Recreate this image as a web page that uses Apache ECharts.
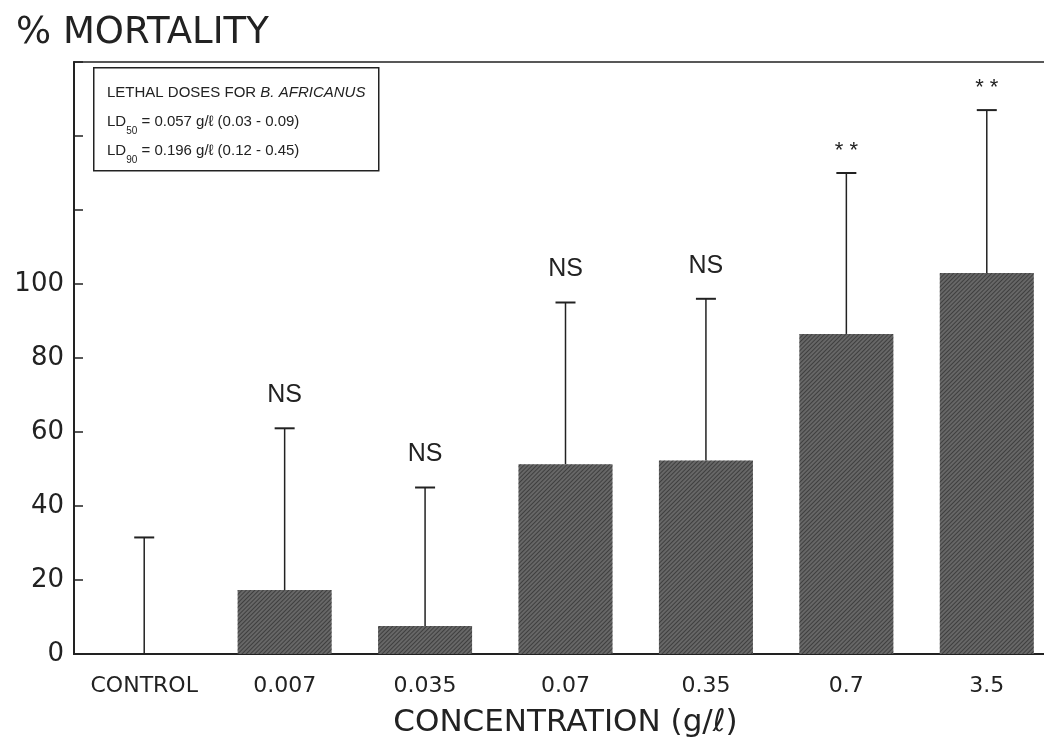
<!DOCTYPE html>
<html>
<head>
<meta charset="utf-8">
<script src="https://cdn.jsdelivr.net/npm/echarts@6/dist/echarts.min.js"></script>
<style>
  html, body { margin: 0; padding: 0; background: #fff; }
  #chart { width: 1044px; height: 752px; }
</style>
</head>
<body>
<div id="chart"></div>
<script>
const categories = ["CONTROL", "0.007", "0.035", "0.07", "0.35", "0.7", "3.5"];
const mortality = [0, 17.3, 7.6, 51.3, 52.3, 86.5, 103];
const errorTop = [31.5, 61, 45, 95, 96, 130, 147];
const significance = ["", "NS", "NS", "NS", "NS", "* *", "* *"];
const yTicks = [0, 20, 40, 60, 80, 100];

const font = "Liberation Sans";
const wide = "DejaVu Sans";
const chart = echarts.init(document.getElementById("chart"), null, { renderer: "canvas" });

const errorData = categories.map((c, i) => [i, mortality[i], errorTop[i], significance[i]]);

chart.setOption({
  animation: false,
  title: {
    text: "% MORTALITY", left: 11, top: 10,
    textStyle: { fontFamily: wide, fontSize: 37, fontWeight: "normal", color: "#222" }
  },
  grid: {
    left: 74, width: 983, top: 62, bottom: 98, outerBoundsMode: "none",
    show: true, borderColor: "#222", borderWidth: 1.5
  },
  xAxis: {
    type: "category", data: categories,
    name: "CONCENTRATION (g/ℓ)", nameLocation: "middle", nameGap: 53,
    nameTextStyle: { fontFamily: wide, fontSize: 31, color: "#222" },
    axisLine: { lineStyle: { color: "#222", width: 2 } },
    axisTick: { alignWithLabel: true, length: 9, lineStyle: { color: "#222", width: 1.5 } },
    axisLabel: { fontFamily: wide, fontSize: 22, color: "#222", margin: 21 }
  },
  yAxis: {
    type: "value", min: 0, max: 160, interval: 20,
    axisLine: { show: true, lineStyle: { color: "#222", width: 2 } },
    axisTick: { show: true, inside: true, length: 9, lineStyle: { color: "#222", width: 1.5 } },
    splitLine: { show: false },
    axisLabel: {
      fontFamily: wide, fontSize: 26, color: "#222", margin: 10,
      formatter: v => (yTicks.includes(v) ? String(v) : "")
    }
  },
  series: [
    {
      type: "bar", data: mortality, barWidth: 94,
      itemStyle: {
        color: "#676767",
        decal: {
          symbol: "rect", symbolSize: 1, dashArrayX: [1, 0], dashArrayY: [1, 2],
          rotation: -Math.PI / 4, color: "rgba(30,30,30,0.55)"
        }
      }
    },
    {
      type: "custom", data: errorData, z: 5,
      encode: { x: 0, y: [1, 2] },
      renderItem: (params, api) => {
        const i = api.value(0);
        const base = api.coord([i, api.value(1)]);
        const top = api.coord([i, api.value(2)]);
        const label = significance[i];
        const star = label.indexOf("*") >= 0;
        return {
          type: "group",
          children: [
            { type: "line", shape: { x1: base[0], y1: base[1], x2: top[0], y2: top[1] }, style: { stroke: "#222", lineWidth: 1.5 } },
            { type: "line", shape: { x1: top[0] - 10, y1: top[1], x2: top[0] + 10, y2: top[1] }, style: { stroke: "#222", lineWidth: 2 } },
            {
              type: "text", x: top[0], y: top[1] - (star ? 22 : 33),
              style: {
                text: label, align: "center", verticalAlign: "middle",
                fontFamily: font, fontSize: star ? 22 : 25, fill: "#222"
              }
            }
          ]
        };
      }
    }
  ],
  graphic: [
    {
      type: "rect", left: 93, top: 67,
      shape: { width: 285, height: 103 },
      style: { fill: "#fff", stroke: "#222", lineWidth: 1.5 }, z: 10
    },
    {
      type: "text", left: 107, top: 78, z: 11,
      style: {
        text: "LETHAL DOSES FOR {i|B. AFRICANUS}\nLD{s|50} = 0.057 g/ℓ (0.03 - 0.09)\nLD{s|90} = 0.196 g/ℓ (0.12 - 0.45)",
        fontFamily: font, fontSize: 15, lineHeight: 29, fill: "#222",
        rich: {
          i: { fontFamily: font, fontSize: 15, fontStyle: "italic", fill: "#222" },
          s: { fontFamily: font, fontSize: 10, fill: "#222", verticalAlign: "bottom", lineHeight: 16 }
        }
      }
    }
  ]
});
</script>
</body>
</html>
